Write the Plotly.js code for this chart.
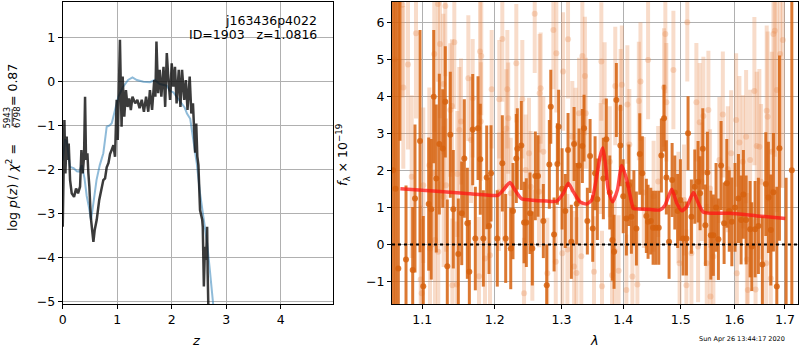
<!DOCTYPE html>
<html><head><meta charset="utf-8">
<script src="https://cdn.plot.ly/plotly-3.0.1.min.js"></script>
<style>html,body{margin:0;padding:0;background:#fff}#c{width:800px;height:350px}</style>
</head><body><div id="c"></div>
<script>
// ---- left panel: log p(z) ----
const pzZ = [0.000,0.012,0.031,0.049,0.073,0.092,0.110,0.135,0.165,0.208,0.245,0.281,0.318,0.343,0.367,0.391,0.410,0.428,0.453,0.471,0.489,0.514,0.538,0.563,0.587,0.624,0.670,0.716,0.745,0.777,0.807,0.840,0.868,0.900,0.930,0.960,0.990,1.010,1.030,1.050,1.080,1.100,1.130,1.160,1.190,1.220,1.250,1.280,1.330,1.370,1.410,1.450,1.490,1.530,1.570,1.600,1.640,1.680,1.700,1.720,1.750,1.780,1.810,1.850,1.880,1.910,1.940,1.970,2.000,2.030,2.060,2.090,2.130,2.160,2.190,2.230,2.260,2.290,2.330,2.360,2.390,2.410,2.430,2.450,2.470,2.490,2.500,2.520,2.560,2.570,2.590,2.610,2.630,2.650,2.660,2.680];
const pzLog = [-3.30,-1.78,-0.88,-2.09,-1.25,-1.78,-1.41,-2.24,-2.54,-2.62,-2.43,-2.54,-2.39,-1.56,-2.09,-1.71,-0.35,-1.78,-1.63,-2.09,-2.39,-3.07,-3.45,-3.64,-3.37,-3.14,-2.69,-2.45,-2.24,-2.20,-1.95,-1.85,-1.65,-1.55,-1.45,-1.71,-0.42,-1.33,0.03,0.94,-1.03,0.11,-0.80,-0.20,-0.58,-0.39,-0.65,-0.35,-0.50,-0.42,-0.61,-0.42,-0.69,-0.35,-0.69,-0.20,-0.65,0.03,-0.35,0.90,-0.27,0.26,-0.35,0.33,-0.58,0.64,0.03,-0.42,0.41,-0.12,0.33,-0.50,0.26,-0.58,0.26,-0.42,0.03,-0.65,0.11,-0.73,-0.50,-1.30,-1.62,-0.96,-1.70,-1.90,-2.39,-2.92,-3.14,-3.30,-4.65,-3.75,-4.05,-3.30,-4.35,-5.60];
const chiZ = [0.000,0.012,0.042,0.073,0.090,0.134,0.200,0.260,0.300,0.350,0.400,0.440,0.480,0.520,0.570,0.620,0.680,0.745,0.790,0.807,0.860,0.900,0.960,1.020,1.100,1.200,1.280,1.360,1.480,1.600,1.690,1.780,1.910,1.970,2.030,2.150,2.240,2.280,2.340,2.370,2.400,2.460,2.520,2.590,2.650,2.700,2.740,2.780];
const chiLog = [-1.80,-1.63,-1.33,-1.35,-1.55,-1.94,-1.97,-2.04,-2.05,-1.90,-2.20,-2.60,-2.85,-3.14,-2.70,-2.24,-1.90,-1.63,-1.20,-1.03,-1.00,-0.95,-0.65,-0.35,-0.14,0.03,0.09,0.03,-0.01,-0.02,0.03,-0.06,-0.10,-0.22,-0.25,-0.45,-0.60,-0.73,-0.85,-1.11,-1.35,-1.86,-2.54,-3.14,-3.67,-4.28,-4.88,-5.30];

// ---- right panel: spectrum ----
const darkLam = [1.0620,1.0652,1.0688,1.0709,1.0787,1.0874,1.0904,1.0970,1.1013,1.1085,1.1119,1.1152,1.1186,1.1227,1.1273,1.1308,1.1335,1.1376,1.1417,1.1486,1.1533,1.1569,1.1611,1.1639,1.1686,1.1723,1.1761,1.1793,1.1836,1.1884,1.1917,1.1946,1.2036,1.2109,1.2158,1.2232,1.2265,1.2314,1.2329,1.2388,1.2429,1.2463,1.2518,1.2553,1.2598,1.2639,1.2720,1.2772,1.2812,1.2834,1.2885,1.2936,1.2956,1.3010,1.3060,1.3103,1.3155,1.3198,1.3240,1.3277,1.3330,1.3357,1.3410,1.3454,1.3497,1.3535,1.3572,1.3670,1.3719,1.3776,1.3819,1.3847,1.3885,1.3952,1.4000,1.4053,1.4095,1.4138,1.4180,1.4223,1.4281,1.4325,1.4394,1.4424,1.4471,1.4511,1.4558,1.4610,1.4656,1.4703,1.4744,1.4792,1.4846,1.4894,1.4945,1.4995,1.5043,1.5103,1.5133,1.5194,1.5256,1.5316,1.5353,1.5403,1.5451,1.5488,1.5552,1.5600,1.5650,1.5694,1.5745,1.5802,1.5853,1.5900,1.5949,1.6010,1.6076,1.6128,1.6172,1.6225,1.6303,1.6336,1.6401,1.6466,1.6545,1.6613,1.6665,1.6713,1.6766,1.6834,1.6887,1.7023,1.7140];
const darkFlux = [2.0,1.5,-0.65,7.5,-0.41,-0.69,1.24,2.79,-1.13,1.09,0.95,3.99,1.78,2.71,2.59,3.85,-0.59,2.96,0.95,-0.26,0.84,2.32,0.57,-0.74,3.10,0.16,3.14,2.30,0.16,1.81,0.50,1.92,0.16,2.19,0.16,-0.11,0.90,2.32,2.58,2.67,0.59,0.59,0.84,-0.11,1.85,1.85,0.63,-1.10,2.16,3.72,0.27,2.17,3.18,1.50,0.90,2.55,0.07,2.71,1.10,2.13,2.66,3.14,0.63,2.39,0.43,1.92,1.22,1.78,2.84,1.40,0.12,-0.20,3.90,2.67,1.30,0.70,1.60,0.75,1.00,0.43,2.44,1.92,0.77,0.61,0.63,0.45,0.45,0.45,2.40,3.41,1.81,0.07,1.74,1.40,0.90,1.20,0.16,0.16,3.00,0.75,1.56,1.69,1.38,2.58,0.52,1.94,0.25,0.25,1.00,0.14,2.13,0.57,1.65,0.90,0.61,1.00,1.24,0.66,1.35,0.66,0.41,-0.06,0.41,0.50,-0.54,1.63,1.27,0.39,1.41,-1.14,2.60,-2.00,2.00];
const darkErr = [20,20,8,4.7,2.0,1.7,2.0,3.0,1.9,1.8,1.9,1.8,2.0,1.9,1.6,1.5,1.8,1.7,1.6,1.5,1.4,1.6,1.5,1.4,1.5,1.4,1.4,1.5,1.3,1.4,1.3,1.3,1.3,1.3,1.2,1.1,1.3,1.2,1.1,1.2,1.1,1.2,1.1,1.0,1.2,1.1,1.0,1.1,1.2,1.0,1.0,1.1,1.0,1.1,1.0,1.0,1.0,1.0,1.1,1.0,1.0,0.9,0.9,1.0,0.9,1.0,1.1,1.1,1.1,1.0,1.1,1.0,1.0,1.1,1.0,1.0,1.1,1.0,1.0,1.0,1.1,1.0,1.0,1.0,0.9,1.0,1.0,1.0,1.0,0.9,1.0,1.0,1.0,1.0,1.0,1.1,1.0,1.0,1.0,1.0,1.0,1.1,1.0,1.1,1.1,1.1,1.2,1.1,1.2,1.1,1.2,1.1,1.2,1.1,1.2,1.2,1.2,1.2,1.2,1.2,1.3,1.2,1.3,1.3,1.3,1.4,1.5,1.5,1.6,2.7,2.5,3.8,20];
const lightLam = [1.0640,1.0739,1.0752,1.0813,1.0861,1.0917,1.0979,1.0992,1.1013,1.1093,1.1102,1.1133,1.1159,1.1168,1.1209,1.1213,1.1236,1.1281,1.1285,1.1308,1.1317,1.1376,1.1399,1.1404,1.1431,1.1464,1.1472,1.1500,1.1523,1.1625,1.1662,1.1686,1.1775,1.1789,1.1800,1.1807,1.1860,1.1931,1.1955,1.2060,1.2065,1.2109,1.2134,1.2167,1.2182,1.2195,1.2232,1.2314,1.2403,1.2429,1.2453,1.2503,1.2528,1.2553,1.2589,1.2654,1.2664,1.2679,1.2720,1.2781,1.2874,1.2911,1.2920,1.3013,1.3025,1.3092,1.3103,1.3170,1.3198,1.3223,1.3236,1.3277,1.3313,1.3330,1.3371,1.3385,1.3518,1.3625,1.3637,1.3648,1.3691,1.3776,1.3813,1.3857,1.3867,1.3923,1.3956,1.3977,1.4053,1.4070,1.4103,1.4155,1.4240,1.4265,1.4293,1.4350,1.4424,1.4520,1.4600,1.4703,1.4726,1.4744,1.4869,1.4960,1.4980,1.5060,1.5103,1.5119,1.5194,1.5285,1.5316,1.5346,1.5384,1.5414,1.5476,1.5507,1.5538,1.5545,1.5600,1.5713,1.5778,1.5873,1.5936,1.6032,1.6045,1.6095,1.6161,1.6225,1.6240,1.6258,1.6303,1.6387,1.6410,1.6434,1.6485,1.6519,1.6620,1.6631,1.6650,1.6713,1.6733,1.6766,1.6793,1.6834,1.6901,1.6956];
const lightFlux = [5.0,6.47,4.24,4.86,1.83,5.70,-0.95,-1.32,1.60,2.14,-0.11,1.92,5.14,0.12,6.49,-0.20,5.41,4.33,1.29,6.44,1.60,3.63,3.74,-1.10,5.46,-1.08,1.90,3.09,3.32,4.49,2.82,3.95,-0.86,5.21,3.32,5.09,-0.38,-0.29,4.19,1.42,3.92,5.55,1.56,3.13,4.19,3.41,1.38,4.89,3.92,-1.32,2.01,2.46,1.56,-0.02,6.23,1.42,4.08,4.22,2.50,-0.78,5.79,-0.47,5.16,-0.24,4.67,-0.14,5.54,2.91,-0.60,2.73,-0.77,3.54,-0.32,5.09,4.55,3.54,-0.74,2.32,4.94,-1.13,3.86,2.23,-0.83,-0.17,4.28,-0.71,3.68,4.31,-1.23,3.78,2.70,-0.87,-1.08,3.87,4.40,1.40,4.98,1.30,1.70,4.24,5.68,3.84,4.71,1.00,-0.51,1.20,-1.10,6.00,-0.24,3.84,-0.06,3.30,1.69,3.47,-0.51,3.63,1.51,-1.41,-0.33,2.28,3.51,2.03,2.46,3.36,-0.78,2.75,2.23,2.91,-0.41,-1.23,2.28,4.14,-1.22,2.66,2.64,1.69,-0.51,3.61,3.45,-0.92,2.50,5.68,5.77,4.17,5.14,5.52];
const lightErr = [3.5,2.5,2.2,2.3,2.2,2.3,2.0,2.0,2.1,2.1,2.0,2.0,2.1,1.9,2.1,1.9,2.0,1.9,1.9,1.9,1.8,1.8,1.8,1.8,1.8,1.7,1.7,1.7,1.7,1.7,1.7,1.6,1.6,1.7,1.6,1.6,1.6,1.6,1.6,1.6,1.6,1.7,1.5,1.6,1.6,1.5,1.5,1.6,1.6,1.5,1.5,1.5,1.5,1.5,1.6,1.5,1.6,1.5,1.5,1.5,1.6,1.5,1.6,1.5,1.6,1.5,1.6,1.5,1.5,1.5,1.5,1.5,1.5,1.6,1.6,1.5,1.5,1.5,1.6,1.5,1.6,1.5,1.5,1.5,1.6,1.5,1.6,1.6,1.5,1.6,1.5,1.5,1.5,1.6,1.6,1.5,1.6,1.5,1.5,1.6,1.6,1.6,1.6,1.5,1.5,1.5,1.5,1.6,1.5,1.6,1.5,1.6,1.6,1.6,1.6,1.6,1.6,1.6,1.6,1.7,1.7,1.7,1.7,1.8,1.7,1.8,1.8,1.8,1.8,1.8,1.9,2.0,1.9,2.0,2.1,2.1,2.2,2.3,2.3,2.4,2.7,3.2,3.4,3.3,3.6,4.0];
const modelLam = [1.0714,1.1100,1.1555,1.1980,1.2050,1.2123,1.2221,1.2294,1.2393,1.2516,1.2771,1.2926,1.3029,1.3107,1.3186,1.3292,1.3399,1.3480,1.3561,1.3616,1.3660,1.3703,1.3752,1.3825,1.3902,1.3975,1.4060,1.4145,1.4172,1.4402,1.4633,1.4721,1.4840,1.4930,1.5020,1.5110,1.5231,1.5322,1.5414,1.5918,1.6437,1.7005];
const modelFlux = [1.50,1.45,1.38,1.32,1.33,1.47,1.67,1.47,1.23,1.20,1.17,1.17,1.38,1.65,1.42,1.15,1.09,1.20,1.83,2.37,2.61,2.19,1.47,1.15,1.47,2.13,1.74,1.11,0.97,0.95,0.93,1.06,1.49,1.11,0.91,1.02,1.40,1.11,0.87,0.84,0.77,0.70];
const lamTicks = [1.1,1.2,1.3,1.4,1.5,1.6,1.7];
const lamTickText = ['1.1','1.2','1.3','1.4','1.5','1.6','1.7'];

const FONT = 'DejaVu Sans, sans-serif';
const darkCol = 'rgba(214,98,14,0.85)';
const lightCol = 'rgba(232,140,80,0.3)';

const traces = [
  {x: chiZ, y: chiLog, xaxis:'x', yaxis:'y', mode:'lines', line:{color:'rgba(31,119,180,0.5)', width:2}, hoverinfo:'skip'},
  {x: pzZ, y: pzLog, xaxis:'x', yaxis:'y', mode:'lines', line:{color:'rgba(10,10,10,0.8)', width:2.5}, hoverinfo:'skip'},
  {x: lightLam, y: lightFlux, xaxis:'x2', yaxis:'y2', mode:'markers', marker:{color:lightCol, size:6},
   error_y:{type:'data', array:lightErr, visible:true, thickness:4, width:0, color:lightCol}},
  {x: darkLam, y: darkFlux, xaxis:'x2', yaxis:'y2', mode:'markers', marker:{color:darkCol, size:6},
   error_y:{type:'data', array:darkErr, visible:true, thickness:3, width:0, color:darkCol}},
  {x: modelLam, y: modelFlux, xaxis:'x2', yaxis:'y2', mode:'lines', line:{color:'rgba(255,20,20,0.75)', width:3.5, shape:'spline', smoothing:0.6}}
];

const axBase = {showline:true, mirror:true, linecolor:'black', linewidth:1, ticks:'outside', ticklen:4, tickcolor:'black',
  showgrid:true, gridcolor:'#b0b0b0', gridwidth:1, zeroline:false, tickfont:{family:FONT, size:12.5, color:'black'}};

const layout = {
  width:800, height:350, margin:{l:0,r:0,t:0,b:0}, paper_bgcolor:'white', plot_bgcolor:'white', showlegend:false,
  font:{family:FONT, color:'black'},
  xaxis: Object.assign({}, axBase, {domain:[0.0784,0.4166], range:[0,4.965], tickvals:[0,1,2,3,4], anchor:'y'}),
  yaxis: Object.assign({}, axBase, {domain:[0.1314,0.9957], range:[-5.05,1.81], tickvals:[-5,-4,-3,-2,-1,0,1], anchor:'x'}),
  xaxis2: Object.assign({}, axBase, {domain:[0.49,0.9979], type:'log', range:[0.0256,0.2374], tickvals:lamTicks, ticktext:lamTickText, anchor:'y2'}),
  yaxis2: Object.assign({}, axBase, {domain:[0.1314,0.9957], range:[-1.61,6.56], tickvals:[-1,0,1,2,3,4,5,6], anchor:'x2'}),
  shapes: [
    {type:'line', xref:'x2 domain', yref:'y2', x0:0, x1:1, y0:0, y1:0, layer:'above', line:{color:'black', width:2, dash:'dot'}},
    {type:'line', xref:'paper', yref:'paper', x0:12.2/800, x1:12.2/800, y0:1-109/350, y1:1-126/350, line:{color:'black', width:0.8}}
  ],
  annotations: [
    {xref:'paper', yref:'paper', x:318.5/800, y:1-20.5/350, xanchor:'right', yanchor:'middle', showarrow:false, text:'j163436p4022', font:{family:FONT, size:12.5}},
    {xref:'paper', yref:'paper', x:318.5/800, y:1-34.5/350, xanchor:'right', yanchor:'middle', showarrow:false, text:'ID=1903\u00a0\u00a0\u00a0z=1.0816', font:{family:FONT, size:12.5}},
    {xref:'paper', yref:'paper', x:12/800, y:1-188/350, xanchor:'center', yanchor:'middle', showarrow:false, textangle:-90, text:'log <i>p</i>(<i>z</i>) / <i>χ</i><sup>2</sup> =', font:{family:FONT, size:12.5}},
    {xref:'paper', yref:'paper', x:7/800, y:1-117.5/350, xanchor:'center', yanchor:'middle', showarrow:false, textangle:-90, text:'5943', font:{family:FONT, size:8.5}},
    {xref:'paper', yref:'paper', x:17.5/800, y:1-117.5/350, xanchor:'center', yanchor:'middle', showarrow:false, textangle:-90, text:'6798', font:{family:FONT, size:8.5}},
    {xref:'paper', yref:'paper', x:12/800, y:1-85/350, xanchor:'center', yanchor:'middle', showarrow:false, textangle:-90, text:'= 0.87', font:{family:FONT, size:12.5}},
    {xref:'paper', yref:'paper', x:343/800, y:1-155/350, xanchor:'center', yanchor:'middle', showarrow:false, textangle:-90, text:'<i>f</i><sub>λ</sub> × 10<sup>−19</sup>', font:{family:FONT, size:12.5}},
    {xref:'paper', yref:'paper', x:196.7/800, y:1-340/350, xanchor:'center', yanchor:'middle', showarrow:false, text:'<i>z</i>', font:{family:FONT, size:13}},
    {xref:'paper', yref:'paper', x:594.5/800, y:1-340.5/350, xanchor:'center', yanchor:'middle', showarrow:false, text:'<i>λ</i>', font:{family:FONT, size:13}},
    {xref:'paper', yref:'paper', x:742/800, y:1-339/350, xanchor:'center', yanchor:'middle', showarrow:false, text:'Sun Apr 26 13:44:17 2020', font:{family:FONT, size:6.5}}
  ]
};
Plotly.newPlot('c', traces, layout, {staticPlot:true, displayModeBar:false});
</script></body></html>
